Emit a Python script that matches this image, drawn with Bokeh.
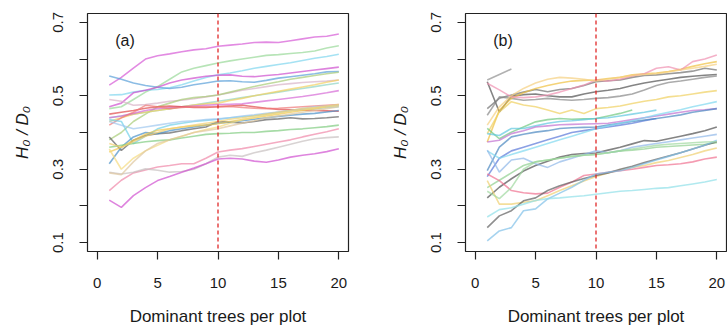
from bokeh.plotting import figure
from bokeh.layouts import row
from bokeh.models import Range1d, FixedTicker, Span, Label
from bokeh.embed import file_html
from bokeh.resources import INLINE

# ---------------- data ----------------
x_all = list(range(1, 21))
x_ticks = [0, 5, 10, 15, 20]
y_ticks = [0.1, 0.2, 0.3, 0.4, 0.5, 0.6, 0.7]
y_labels = {0.1: "0.1", 0.2: "", 0.3: "0.3", 0.4: "", 0.5: "0.5", 0.6: "", 0.7: "0.7"}
x_label = "Dominant trees per plot"
y_label = "H\u2080 / D\u2080"
cutoff = 10

# panel (a) series (x = 1..20)
a01 = [0.529, 0.55, 0.575, 0.600, 0.609, 0.614, 0.620, 0.625, 0.628, 0.635, 0.638, 0.641, 0.645, 0.646, 0.645, 0.650, 0.655, 0.660, 0.662, 0.668]
a02 = [0.465, 0.47, 0.49, 0.51, 0.525, 0.545, 0.565, 0.575, 0.582, 0.589, 0.595, 0.600, 0.605, 0.610, 0.612, 0.615, 0.618, 0.622, 0.630, 0.636]
a03 = [0.502, 0.503, 0.51, 0.515, 0.517, 0.522, 0.53, 0.54, 0.55, 0.557, 0.562, 0.568, 0.575, 0.58, 0.585, 0.59, 0.596, 0.602, 0.607, 0.613]
a04 = [0.554, 0.545, 0.535, 0.528, 0.523, 0.52, 0.523, 0.53, 0.535, 0.54, 0.541, 0.538, 0.537, 0.542, 0.548, 0.552, 0.556, 0.56, 0.565, 0.566]
a05 = [0.47, 0.48, 0.508, 0.515, 0.523, 0.535, 0.543, 0.548, 0.553, 0.556, 0.557, 0.553, 0.552, 0.555, 0.558, 0.562, 0.566, 0.570, 0.574, 0.578]
a06 = [0.49, 0.485, 0.474, 0.476, 0.48, 0.485, 0.488, 0.492, 0.497, 0.502, 0.508, 0.515, 0.52, 0.525, 0.53, 0.533, 0.536, 0.538, 0.54, 0.543]
a07 = [0.38, 0.40, 0.43, 0.45, 0.47, 0.48, 0.49, 0.495, 0.498, 0.502, 0.51, 0.518, 0.525, 0.532, 0.538, 0.545, 0.55, 0.555, 0.56, 0.564]
a08 = [0.44, 0.445, 0.45, 0.455, 0.46, 0.465, 0.47, 0.475, 0.48, 0.485, 0.49, 0.495, 0.50, 0.505, 0.51, 0.515, 0.52, 0.525, 0.53, 0.535]
a09 = [0.43, 0.44, 0.45, 0.455, 0.46, 0.465, 0.47, 0.475, 0.478, 0.48, 0.487, 0.493, 0.50, 0.506, 0.512, 0.518, 0.524, 0.53, 0.537, 0.543]
a10 = [0.44, 0.445, 0.452, 0.46, 0.465, 0.468, 0.47, 0.472, 0.474, 0.476, 0.477, 0.478, 0.482, 0.486, 0.49, 0.494, 0.498, 0.503, 0.508, 0.514]
a11 = [0.45, 0.455, 0.46, 0.466, 0.47, 0.472, 0.47, 0.468, 0.468, 0.47, 0.472, 0.474, 0.47, 0.466, 0.463, 0.462, 0.461, 0.46, 0.459, 0.458]
a12 = [0.42, 0.44, 0.455, 0.474, 0.47, 0.465, 0.468, 0.47, 0.47, 0.47, 0.471, 0.468, 0.466, 0.465, 0.466, 0.468, 0.47, 0.472, 0.474, 0.476]
a13 = [0.435, 0.43, 0.37, 0.39, 0.41, 0.42, 0.425, 0.43, 0.433, 0.436, 0.44, 0.443, 0.446, 0.45, 0.455, 0.46, 0.463, 0.465, 0.468, 0.47]
a14 = [0.388, 0.351, 0.379, 0.392, 0.397, 0.399, 0.405, 0.41, 0.415, 0.43, 0.428, 0.426, 0.43, 0.435, 0.437, 0.44, 0.437, 0.438, 0.44, 0.443]
a15 = [0.315, 0.36, 0.388, 0.4, 0.397, 0.405, 0.41, 0.415, 0.42, 0.425, 0.428, 0.432, 0.436, 0.44, 0.444, 0.447, 0.45, 0.452, 0.456, 0.46]
a16 = [0.347, 0.36, 0.379, 0.395, 0.406, 0.41, 0.415, 0.418, 0.42, 0.424, 0.43, 0.435, 0.44, 0.445, 0.45, 0.455, 0.46, 0.465, 0.47, 0.474]
a17 = [0.355, 0.30, 0.33, 0.35, 0.365, 0.38, 0.39, 0.40, 0.408, 0.415, 0.425, 0.435, 0.44, 0.447, 0.452, 0.458, 0.462, 0.466, 0.47, 0.473]
a18 = [0.36, 0.365, 0.37, 0.375, 0.378, 0.38, 0.385, 0.39, 0.395, 0.397, 0.398, 0.40, 0.40, 0.403, 0.405, 0.408, 0.41, 0.413, 0.416, 0.42]
a19 = [0.242, 0.27, 0.29, 0.298, 0.306, 0.31, 0.315, 0.315, 0.33, 0.347, 0.352, 0.356, 0.362, 0.368, 0.374, 0.38, 0.388, 0.395, 0.402, 0.41]
a20 = [0.292, 0.287, 0.292, 0.301, 0.297, 0.292, 0.294, 0.30, 0.315, 0.333, 0.338, 0.335, 0.345, 0.352, 0.36, 0.368, 0.376, 0.383, 0.386, 0.388]
a21 = [0.216, 0.196, 0.228, 0.25, 0.269, 0.28, 0.292, 0.303, 0.315, 0.328, 0.33, 0.328, 0.322, 0.319, 0.325, 0.333, 0.338, 0.342, 0.348, 0.356]
a22 = [0.29, 0.285, 0.32, 0.35, 0.37, 0.38, 0.39, 0.40, 0.405, 0.41, 0.418, 0.425, 0.432, 0.44, 0.445, 0.45, 0.455, 0.46, 0.465, 0.47]
a23 = [0.43, 0.42, 0.41, 0.415, 0.42, 0.425, 0.43, 0.432, 0.435, 0.437, 0.44, 0.445, 0.448, 0.452, 0.456, 0.46, 0.465, 0.47, 0.472, 0.475]
a24 = [0.37, 0.36, 0.375, 0.39, 0.40, 0.41, 0.415, 0.42, 0.425, 0.43, 0.436, 0.44, 0.445, 0.45, 0.455, 0.46, 0.465, 0.468, 0.472, 0.476]
a_series = [a01, a02, a03, a04, a05, a06, a07, a08, a09, a10, a11, a12,
            a13, a14, a15, a16, a17, a18, a19, a20, a21, a22, a23, a24]
a_colors = ["#d65ad6", "#98d898", "#7fd6ee", "#5a9fd8", "#cf4fcf", "#d8b4c8",
            "#a8cc78", "#90d4c4", "#f2d060", "#d66ad6", "#e04848", "#f07878",
            "#70d0e8", "#606060", "#4a90c8", "#f0c850", "#f5dc80", "#80cc80",
            "#f088a8", "#c8c0c0", "#d050d0", "#e0c8a0", "#a0c8f0", "#f2d070"]

# panel (b) series (some are shorter than 20 points)
b01 = [0.543, 0.558, 0.573]
b02 = [0.538, 0.456, 0.499, 0.503, 0.505, 0.50, 0.497, 0.497, 0.505, 0.511, 0.515, 0.52, 0.528, 0.535, 0.54, 0.545, 0.55, 0.553, 0.556, 0.558]
b03 = [0.465, 0.493, 0.502, 0.51, 0.517, 0.511, 0.517, 0.52, 0.528, 0.538, 0.541, 0.543, 0.55, 0.555, 0.557, 0.56, 0.563, 0.567, 0.575, 0.57]
b04 = [0.447, 0.497, 0.493, 0.488, 0.49, 0.493, 0.49, 0.488, 0.49, 0.493, 0.495, 0.499, 0.505, 0.516, 0.528, 0.536, 0.54, 0.545, 0.55, 0.554]
b05 = [0.374, 0.461, 0.493, 0.508, 0.52, 0.528, 0.535, 0.54, 0.542, 0.543, 0.547, 0.55, 0.557, 0.56, 0.562, 0.566, 0.572, 0.58, 0.587, 0.593]
b06 = [0.534, 0.516, 0.497, 0.495, 0.497, 0.502, 0.51, 0.52, 0.529, 0.543, 0.54, 0.545, 0.554, 0.56, 0.575, 0.579, 0.57, 0.593, 0.60, 0.611]
b07 = [0.42, 0.47, 0.50, 0.52, 0.535, 0.545, 0.55, 0.548, 0.545, 0.54, 0.545, 0.55, 0.555, 0.558, 0.56, 0.565, 0.57, 0.575, 0.58, 0.586]
b08 = [0.397, 0.456, 0.484, 0.475, 0.47, 0.461, 0.452, 0.461, 0.452, 0.465, 0.468, 0.472, 0.479, 0.485, 0.49, 0.497, 0.50, 0.505, 0.51, 0.514]
b09 = [0.411, 0.383, 0.401, 0.415, 0.429, 0.435, 0.438, 0.436, 0.437, 0.438, 0.445, 0.452, 0.461]
b10 = [0.397, 0.392, 0.411, 0.411, 0.418, 0.425, 0.43, 0.432, 0.435, 0.438, 0.44, 0.445, 0.45, 0.455, 0.461]
b11 = [0.28, 0.33, 0.35, 0.36, 0.37, 0.38, 0.39, 0.40, 0.405, 0.41, 0.415, 0.42, 0.425, 0.432, 0.438]
b12 = [0.374, 0.379, 0.397, 0.405, 0.415, 0.418, 0.421, 0.422, 0.423, 0.424, 0.425, 0.43, 0.435, 0.44, 0.445, 0.45, 0.455, 0.46, 0.462, 0.465]
b13 = [0.296, 0.36, 0.388, 0.395, 0.401, 0.405, 0.411, 0.413, 0.414, 0.415, 0.42, 0.425, 0.43, 0.434, 0.438, 0.443, 0.448, 0.455, 0.46, 0.465]
b14 = [0.35, 0.33, 0.34, 0.35, 0.36, 0.37, 0.38, 0.39, 0.40, 0.41, 0.418, 0.425, 0.432, 0.44, 0.448, 0.455, 0.462, 0.47, 0.477, 0.484]
b15 = [0.222, 0.251, 0.274, 0.295, 0.31, 0.322, 0.333, 0.34, 0.343, 0.344, 0.352, 0.36, 0.369, 0.378, 0.376, 0.383, 0.39, 0.397, 0.405, 0.415]
b16 = [0.352, 0.292, 0.325, 0.33, 0.315, 0.305, 0.32, 0.33, 0.34, 0.35, 0.345, 0.35, 0.36, 0.365, 0.37, 0.375, 0.38, 0.385, 0.39, 0.395]
b17 = [0.25, 0.27, 0.29, 0.31, 0.32, 0.325, 0.33, 0.335, 0.338, 0.34, 0.345, 0.35, 0.352, 0.355, 0.36, 0.362, 0.364, 0.366, 0.368, 0.372]
b18 = [0.269, 0.205, 0.205, 0.21, 0.214, 0.228, 0.242, 0.255, 0.268, 0.28, 0.29, 0.298, 0.305, 0.31, 0.318, 0.324, 0.332, 0.34, 0.35, 0.358]
b19 = [0.287, 0.269, 0.242, 0.236, 0.233, 0.235, 0.251, 0.265, 0.283, 0.287, 0.292, 0.296, 0.30, 0.305, 0.31, 0.312, 0.315, 0.32, 0.328, 0.333]
b20 = [0.141, 0.173, 0.187, 0.214, 0.222, 0.242, 0.255, 0.265, 0.275, 0.283, 0.29, 0.30, 0.308, 0.318, 0.327, 0.336, 0.345, 0.355, 0.365, 0.375]
b21 = [0.105, 0.132, 0.141, 0.187, 0.192, 0.219, 0.235, 0.251, 0.27, 0.287, 0.292, 0.296, 0.305, 0.315, 0.325, 0.335, 0.345, 0.355, 0.365, 0.379]
b22 = [0.17, 0.19, 0.195, 0.205, 0.215, 0.22, 0.222, 0.225, 0.228, 0.232, 0.236, 0.24, 0.242, 0.245, 0.248, 0.25, 0.255, 0.26, 0.265, 0.272]
b23 = [0.24, 0.22, 0.25, 0.30, 0.32, 0.325, 0.33, 0.335, 0.338, 0.34, 0.345, 0.35, 0.355, 0.36, 0.365, 0.368, 0.37, 0.372, 0.374, 0.375]
b_series = [b01, b02, b03, b04, b05, b06, b07, b08, b09, b10, b11, b12,
            b13, b14, b15, b16, b17, b18, b19, b20, b21, b22, b23]
b_colors = ["#909090", "#505050", "#707070", "#888888", "#f0c040", "#f090b0",
            "#f5d080", "#f0d060", "#70c880", "#60c8e0", "#5a78d8", "#c070d0",
            "#4a88c0", "#80d8f0", "#505050", "#90b8e8", "#90d090", "#f0d070",
            "#f07090", "#606060", "#80c0e8", "#90e0e8", "#a0d8a0"]

FONT = "Liberation Sans"
TXT = "#1a1a1a"


def make_panel(series, colors, tag, width, border_left, border_right):
    p = figure(width=width, height=328, output_backend="svg", toolbar_location=None,
               x_range=Range1d(-0.8, 20.8), y_range=Range1d(0.076, 0.724),
               min_border_left=border_left, min_border_right=border_right,
               min_border_top=13, min_border_bottom=77)
    p.background_fill_color = "white"
    p.border_fill_color = "white"
    p.outline_line_color = "#222222"
    p.outline_line_width = 1.2
    p.grid.visible = False

    for ys, c in zip(series, colors):
        p.line(x_all[:len(ys)], ys, line_color=c, line_width=1.6, line_alpha=0.7)

    p.add_layout(Span(location=cutoff, dimension="height", line_color="#e02828",
                      line_dash="4 3", line_width=1.3))
    p.add_layout(Label(x=1.5, y=0.651, text=tag, text_font=FONT, text_font_size="16px",
                       text_color=TXT, text_baseline="alphabetic"))

    xa = p.xaxis[0]
    xa.ticker = FixedTicker(ticks=x_ticks)
    ya = p.yaxis[0]
    ya.ticker = FixedTicker(ticks=y_ticks)
    ya.major_label_overrides = y_labels
    ya.major_label_orientation = "vertical"
    for ax in (xa, ya):
        ax.axis_line_color = None
        ax.major_tick_line_color = "#222222"
        ax.major_tick_line_width = 1.2
        ax.major_tick_out = 8
        ax.major_tick_in = 0
        ax.minor_tick_line_color = None
        ax.major_label_text_font = FONT
        ax.major_label_text_font_size = "15px"
        ax.major_label_text_color = TXT
        ax.axis_label_text_font = FONT
        ax.axis_label_text_font_size = "17px"
        ax.axis_label_text_color = TXT
        ax.axis_label_text_font_style = "normal"
    xa.axis_label = x_label
    xa.major_label_standoff = 18
    xa.axis_label_standoff = 16
    ya.axis_label = y_label
    ya.axis_label_text_font_style = "italic"
    ya.major_label_standoff = 16
    ya.axis_label_standoff = 19
    return p


pa = make_panel(a_series, a_colors, "(a)", 363, 87, 15)
pb = make_panel(b_series, b_colors, "(b)", 364, 102, 1)

layout = row(pa, pb)
open("out.html", "w").write(file_html(layout, INLINE))
